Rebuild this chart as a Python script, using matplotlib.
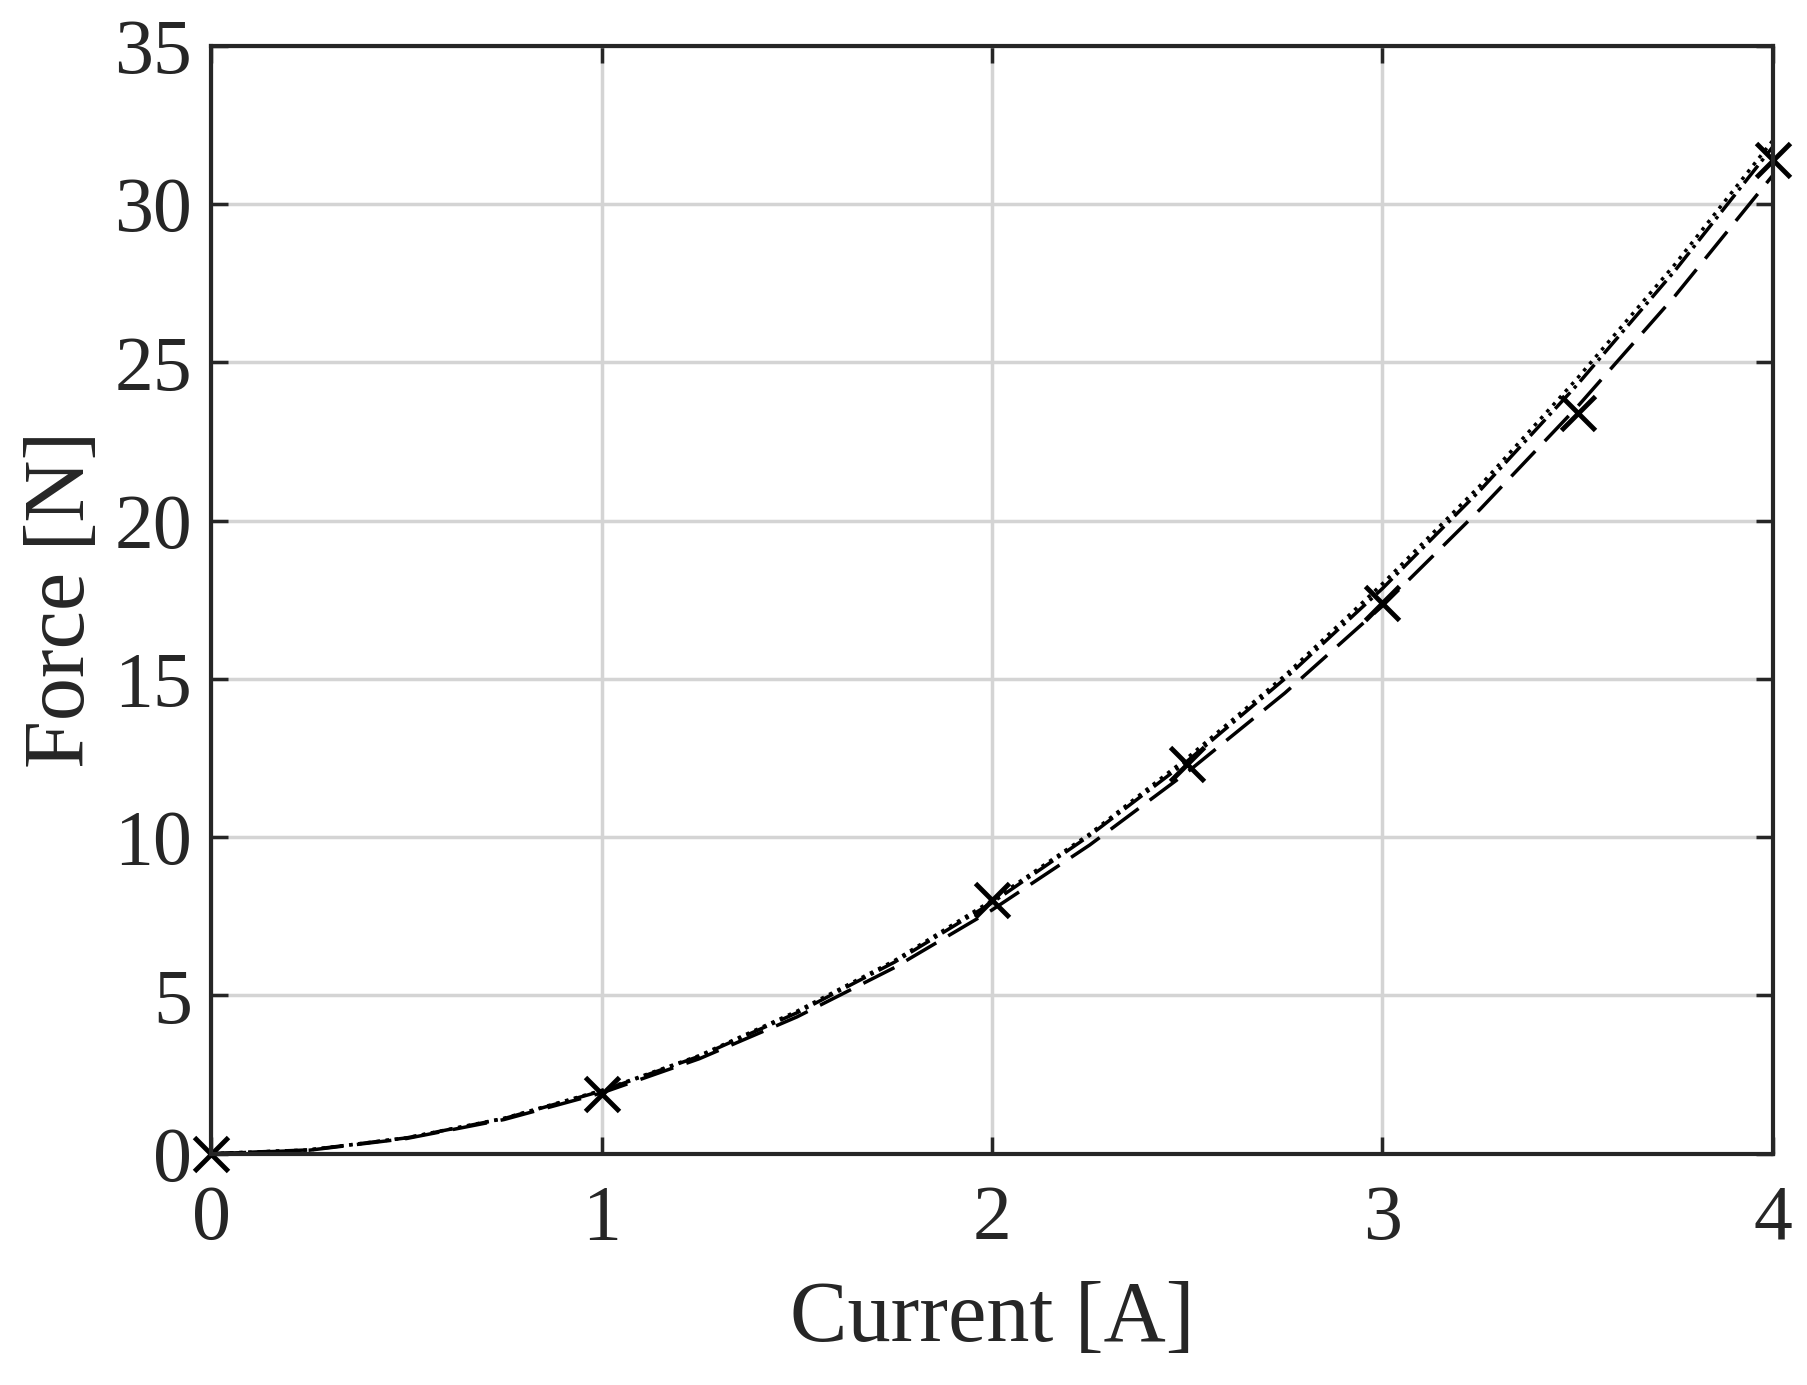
import matplotlib
matplotlib.use("Agg")
import matplotlib.pyplot as plt

current = [0, 0.25, 0.5, 0.75, 1.0, 1.25, 1.5, 1.75, 2.0, 2.25, 2.5, 2.75, 3.0, 3.25, 3.5, 3.75, 4.0]
force_dotted = [0, 0.12, 0.5, 1.12, 2.0, 3.1, 4.5, 6.1, 8.0, 10.1, 12.5, 15.1, 18.0, 21.1, 24.5, 28.1, 32.0]
force_dashdot = [0, 0.12, 0.5, 1.11, 1.98, 3.08, 4.45, 6.05, 7.93, 10.05, 12.4, 15.0, 17.85, 20.95, 24.3, 27.9, 31.8]
force_dashed = [0, 0.11, 0.48, 1.08, 1.92, 3.0, 4.32, 5.88, 7.7, 9.75, 12.05, 14.55, 17.3, 20.35, 23.6, 27.1, 30.9]
meas_current = [0, 1, 2, 2.5, 3, 3.5, 4]
meas_force = [0, 1.9, 8.0, 12.3, 17.4, 23.4, 31.4]

plt.rcParams['font.family'] = ['Liberation Serif', 'DejaVu Serif']
tc = '#262626'
fig = plt.figure(figsize=(18.07, 13.85), dpi=100)
ax = fig.add_axes([0.117, 0.167, 0.864, 0.8])
ax.plot(current, force_dotted, ':', color='black', lw=2.5)
ax.plot(current, force_dashdot, '-.', color='black', lw=2.5)
ax.plot(current, force_dashed, '--', color='black', lw=2.5, dashes=(10, 4))
ax.plot(meas_current, meas_force, 'x', color='black', ms=24, mew=3.5, clip_on=False)
ax.set_xlim(0, 4)
ax.set_ylim(0, 35)
ax.set_xticks([0, 1, 2, 3, 4])
ax.set_yticks(range(0, 36, 5))
ax.grid(True, color='#d4d4d4', lw=2.5)
ax.tick_params(labelsize=56, colors=tc, direction='in', length=12, width=2.5, top=True, right=True)
ax.tick_params(axis='x', pad=22)
ax.tick_params(axis='y', pad=14)
for s in ax.spines.values():
    s.set_linewidth(3)
    s.set_color(tc)
ax.set_xlabel('Current [A]', fontsize=62, color=tc, labelpad=18)
ax.set_ylabel('Force [N]', fontsize=62, color=tc, labelpad=8)
fig.savefig('out.png')
